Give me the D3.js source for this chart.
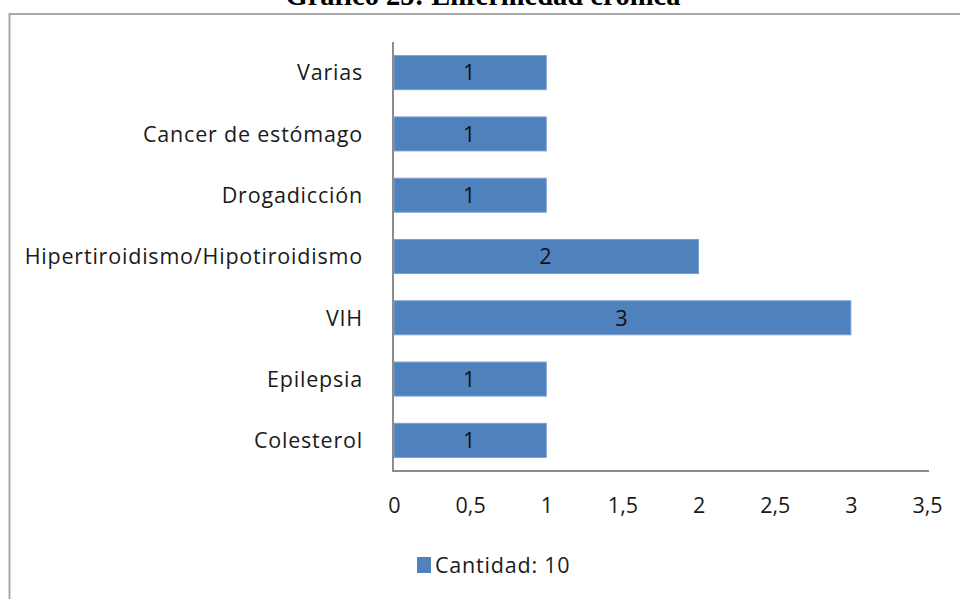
<!DOCTYPE html>
<html>
<head>
<meta charset="utf-8">
<script src="https://cdn.jsdelivr.net/npm/d3@7"></script>
<style>
  body { margin: 0; background: #fff; }
  svg { display: block; }
</style>
</head>
<body>
<svg id="canvas"></svg>
<script>
// data
let categories = ["Varias", "Cancer de estómago", "Drogadicción", "Hipertiroidismo/Hipotiroidismo", "VIH", "Epilepsia", "Colesterol"]
let values = [1, 1, 1, 2, 3, 1, 1]
let tickValues = [0, 0.5, 1, 1.5, 2, 2.5, 3, 3.5]
let title = "Gráfico 25: Enfermedad crónica"
let legendLabel = "Cantidad: 10"

let width = 960
let height = 599
let plotLeft = 394, plotRight = 927
let plotTop = 42, plotBottom = 471

let svg = d3.select('#canvas').attr('width', width).attr('height', height)

let xScale = d3.scaleLinear().domain([0, 3.5]).range([plotLeft, plotRight])
let yScale = d3.scaleBand().domain(categories).range([plotTop, plotBottom]).paddingInner(0.445).paddingOuter(0.2225)

let labelFont = "'Open Sans', Lato, sans-serif"
let labelSize = 21.5
let spacing = 0.8

// frame
svg.append('path')
    .attr('d', 'M9.5,' + (height + 2) + ' V14 H' + (width + 2))
    .attr('fill', 'none').attr('stroke', '#a8a8a8').attr('stroke-width', 2)

// title (cut by the top edge, as in the source)
svg.append('text')
    .attr('x', 483).attr('y', 5)
    .attr('text-anchor', 'middle')
    .attr('font-family', "'Liberation Serif', 'Times New Roman', serif")
    .attr('font-weight', 'bold').attr('font-size', 28.5)
    .attr('fill', '#000')
    .text(title)

// bars
svg.selectAll('.bar').data(values).enter().append('rect')
    .attr('class', 'bar')
    .attr('x', xScale(0))
    .attr('y', (d, i) => yScale(categories[i]))
    .attr('width', d => xScale(d) - xScale(0))
    .attr('height', yScale.bandwidth())
    .attr('fill', '#4f81bd')
    .attr('stroke', '#7a9fcf').attr('stroke-width', 1)

// value labels
svg.selectAll('.val').data(values).enter().append('text')
    .attr('x', d => (xScale(0) + xScale(d)) / 2 - 1)
    .attr('y', (d, i) => yScale(categories[i]) + yScale.bandwidth() / 2)
    .attr('dy', '0.36em')
    .attr('text-anchor', 'middle')
    .attr('font-family', labelFont).attr('font-size', labelSize)
    .attr('fill', '#111')
    .text(d => d)

// y axis
let yAxis = d3.axisLeft(yScale).tickSize(0).tickPadding(31)
let gy = svg.append('g').attr('transform', 'translate(' + plotLeft + ',0)').call(yAxis)
gy.select('.domain').remove()
gy.selectAll('text').attr('font-family', labelFont).attr('font-size', labelSize)
    .attr('letter-spacing', spacing).attr('fill', '#1a1a1a').attr('dy', '0.36em')

// x axis
let xAxis = d3.axisBottom(xScale).tickValues(tickValues).tickSize(0).tickPadding(27)
    .tickFormat(d => d3.format('')(d).replace('.', ','))
let gx = svg.append('g').attr('transform', 'translate(0,' + plotBottom + ')').call(xAxis)
gx.select('.domain').remove()
gx.selectAll('text').attr('font-family', labelFont).attr('font-size', labelSize).attr('fill', '#1a1a1a')

// axis lines
svg.append('line').attr('x1', plotLeft - 1).attr('x2', plotLeft - 1).attr('y1', plotTop).attr('y2', plotBottom)
    .attr('stroke', '#8c8c8c').attr('stroke-width', 2)
svg.append('line').attr('x1', plotLeft - 2).attr('x2', plotRight + 2).attr('y1', plotBottom).attr('y2', plotBottom)
    .attr('stroke', '#8c8c8c').attr('stroke-width', 2)

// legend
let legend = svg.append('g').attr('transform', 'translate(417,557)')
legend.append('rect').attr('width', 14).attr('height', 16).attr('fill', '#4f81bd')
legend.append('text').attr('x', 18).attr('y', 8).attr('dy', '0.36em')
    .attr('font-family', labelFont).attr('font-size', labelSize).attr('letter-spacing', spacing)
    .attr('fill', '#1a1a1a')
    .text(legendLabel)
</script>
</body>
</html>
